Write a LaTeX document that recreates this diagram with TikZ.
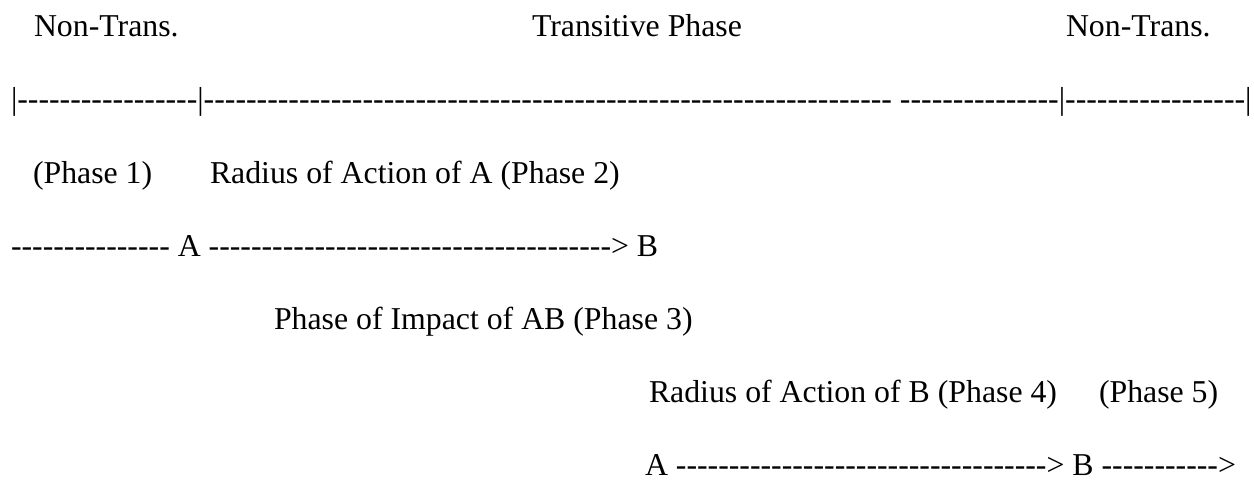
\documentclass[tikz,border=0pt]{standalone}
\usepackage{fontspec}
\newfontfamily\docfont{Liberation Serif}
\newcommand\dashrun[1]{\foreach \k in {1,...,#1}{-}}

\begin{document}
\begin{tikzpicture}[x=0.5pt,y=-0.5pt,
	txt/.style={anchor=base west,inner sep=0pt,outer sep=0pt,font=\docfont\fontsize{15.9pt}{19pt}\selectfont}]
			\useasboundingbox (0,0) rectangle (1254,480);
			\node (ntleft) at (34,37) [txt] {Non-Trans.};
			\node (trans) at (532,37) [txt] {Transitive Phase};
			\node (ntright) at (1066,37) [txt] {Non-Trans.};
			\node (scale) at (11,110) [txt] {|\dashrun{17}|\dashrun{65} \dashrun{15}|\dashrun{17}|};
			\node (ph1) at (33,183.5) [txt] {(Phase 1)};
			\node (ph2) at (210,183.5) [txt] {Radius of Action of A (Phase 2)};
			\node (runA) at (11,256.7) [txt] {\dashrun{15} A \dashrun{38}> B};
			\node (ph3) at (274,330) [txt] {Phase of Impact of AB (Phase 3)};
			\node (ph4) at (649,403) [txt] {Radius of Action of B (Phase 4)};
			\node (ph5) at (1099,403) [txt] {(Phase 5)};
			\node (runB) at (645,476) [txt] {A \dashrun{35}> B \dashrun{11}>};
			\end{tikzpicture}
\end{document}
